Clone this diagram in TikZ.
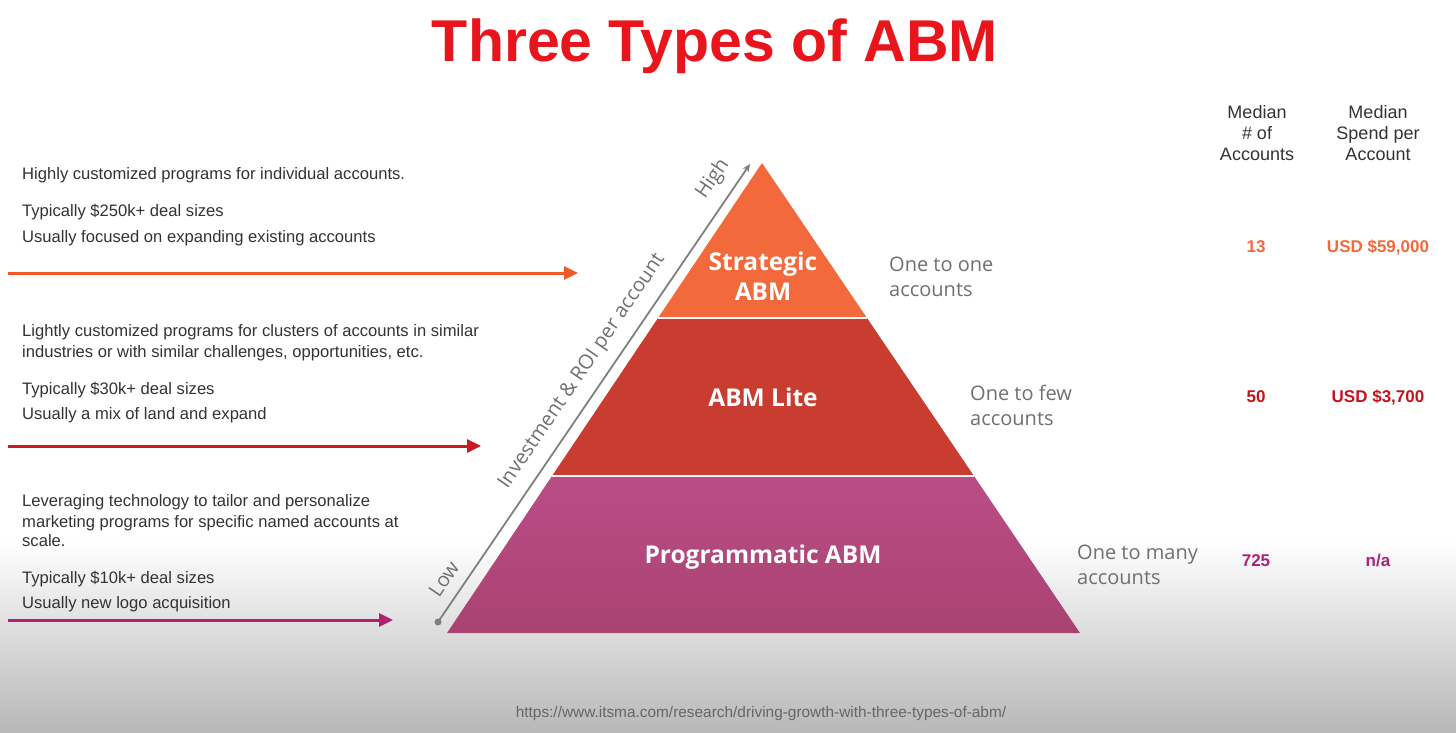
\documentclass[tikz,border=0pt]{standalone}
\usepackage{fontspec}
\setmainfont{Liberation Sans}
\newfontfamily\opensans{Open Sans}
\usetikzlibrary{arrows.meta}
\definecolor{titlered}{HTML}{E8161C}
\definecolor{bodytext}{HTML}{333333}
\definecolor{sidegray}{HTML}{707070}
\definecolor{axisgray}{HTML}{808080}
\definecolor{bggray}{HTML}{B8B8B8}
\definecolor{stratfill}{HTML}{F26A3B}
\definecolor{litefill}{HTML}{C83D2F}
\definecolor{progtop}{HTML}{BA4C86}
\definecolor{progbot}{HTML}{A94372}
\definecolor{arrorange}{HTML}{F05A28}
\definecolor{arrred}{HTML}{CC1A1E}
\definecolor{arrmag}{HTML}{B51F72}
\definecolor{valorange}{HTML}{F26A3B}
\definecolor{valred}{HTML}{C4141B}
\definecolor{valmag}{HTML}{B0207A}
\definecolor{urlgray}{HTML}{666666}
\begin{document}
\begin{tikzpicture}[x=1pt,y=-1pt,
  body/.style={anchor=base west, font=\fontsize{16.6}{19}\selectfont, text=bodytext, inner sep=0pt},
  side/.style={anchor=base west, font=\opensans\fontsize{20}{24}\selectfont, text=sidegray, inner sep=0pt},
  tier/.style={anchor=base, font=\opensans\bfseries\fontsize{24.5}{28}\selectfont, text=white, inner sep=0pt},
  head/.style={anchor=base, font=\fontsize{18}{21}\selectfont, text=bodytext, inner sep=0pt},
  val/.style={anchor=base, font=\bfseries\fontsize{17}{20}\selectfont, inner sep=0pt},
  ptr/.style={line width=3pt, -{Triangle[length=14pt,width=13pt]}},
  axlab/.style={font=\opensans\fontsize{20}{22}\selectfont, text=sidegray, inner sep=0pt},
  sep/.style={draw=white!80!pink, line width=2pt}
]
\useasboundingbox (0,0) rectangle (1456,732);
\fill[white] (0,0) rectangle (1456,732);
\shade[top color=white, bottom color=bggray] (0,540) rectangle (1456,732);

% title
\node[anchor=base, font=\bfseries\fontsize{59}{66}\selectfont, text=titlered, inner sep=0pt] (title) at (715,61) {Three Types of ABM};

% pyramid
\coordinate (apex) at (762,163);
\coordinate (l1) at (658,318);
\coordinate (r1) at (867,318);
\coordinate (l2) at (552,476);
\coordinate (r2) at (974,476);
\coordinate (bl) at (447,633);
\coordinate (br) at (1080,633);
\fill[stratfill] (apex) -- (r1) -- (l1) -- cycle;
\fill[litefill] (l1) -- (r1) -- (r2) -- (l2) -- cycle;
\shade[top color=progtop, bottom color=progbot] (l2) -- (r2) -- (br) -- (bl) -- cycle;
\draw[sep] (l1) -- (r1);
\draw[sep] (l2) -- (r2);

\node[tier] (strat1) at (763,270) {Strategic};
\node[tier] (strat2) at (763,300) {ABM};
\node[tier] (lite) at (763,406) {ABM Lite};
\node[tier] (prog) at (763,563) {Programmatic ABM};

% side labels
\node[side] (one1) at (889,271) {One to one};
\node[side] (one2) at (889,296) {accounts};
\node[side] (few1) at (970,400) {One to few};
\node[side] (few2) at (970,425) {accounts};
\node[side] (many1) at (1077,559) {One to many};
\node[side] (many2) at (1077,584) {accounts};

% axis
\node[circle, fill=axisgray, inner sep=0pt, minimum size=7pt] (lowdot) at (438,622) {};
\coordinate (axhi) at (750,164);
\draw[axisgray, line width=1.8pt, -{Stealth[length=8pt,width=7pt]}] (lowdot.center) -- (axhi);
\path (lowdot.center) -- (axhi)
  node[pos=0.07, sloped, above=12pt, axlab] (low) {Low}
  node[pos=0.52, sloped, above=12pt, axlab] (inv) {Investment \& ROI per account}
  node[pos=0.94, sloped, above=12pt, axlab] (high) {High};

% left text blocks
\node[body] (a1) at (22,179) {Highly customized programs for individual accounts.};
\node[body] (a2) at (22,216) {Typically \$250k+ deal sizes};
\node[body] (a3) at (22,242) {Usually focused on expanding existing accounts};
\coordinate (a0s) at (8,273);
\coordinate (a0e) at (578,273);
\draw[ptr, arrorange] (a0s) -- (a0e);

\node[body] (b1) at (22,336) {Lightly customized programs for clusters of accounts in similar};
\node[body] (b2) at (22,357) {industries or with similar challenges, opportunities, etc.};
\node[body] (b3) at (22,394) {Typically \$30k+ deal sizes};
\node[body] (b4) at (22,419) {Usually a mix of land and expand};
\coordinate (b0s) at (8,446);
\coordinate (b0e) at (481,446);
\draw[ptr, arrred] (b0s) -- (b0e);

\node[body] (c1) at (22,506) {Leveraging technology to tailor and personalize};
\node[body] (c2) at (22,527) {marketing programs for specific named accounts at};
\node[body] (c3) at (22,546) {scale.};
\node[body] (c4) at (22,583) {Typically \$10k+ deal sizes};
\node[body] (c5) at (22,608) {Usually new logo acquisition};
\coordinate (c0s) at (8,620);
\coordinate (c0e) at (393,620);
\draw[ptr, arrmag] (c0s) -- (c0e);

% table
\node[head] (h1a) at (1257,118) {Median};
\node[head] (h1b) at (1257,139) {\# of};
\node[head] (h1c) at (1257,160) {Accounts};
\node[head] (h2a) at (1378,118) {Median};
\node[head] (h2b) at (1378,139) {Spend per};
\node[head] (h2c) at (1378,160) {Account};

\node[val, text=valorange] (v1a) at (1256,252) {13};
\node[val, text=valorange] (v1b) at (1378,252) {USD \$59,000};
\node[val, text=valred] (v2a) at (1256,402) {50};
\node[val, text=valred] (v2b) at (1378,402) {USD \$3,700};
\node[val, text=valmag] (v3a) at (1256,566) {725};
\node[val, text=valmag] (v3b) at (1378,566) {n/a};

% url
\node[anchor=base, font=\fontsize{15.4}{17}\selectfont, text=urlgray, inner sep=0pt] (url) at (761,717) {https://www.itsma.com/research/driving-growth-with-three-types-of-abm/};
\end{tikzpicture}
\end{document}
